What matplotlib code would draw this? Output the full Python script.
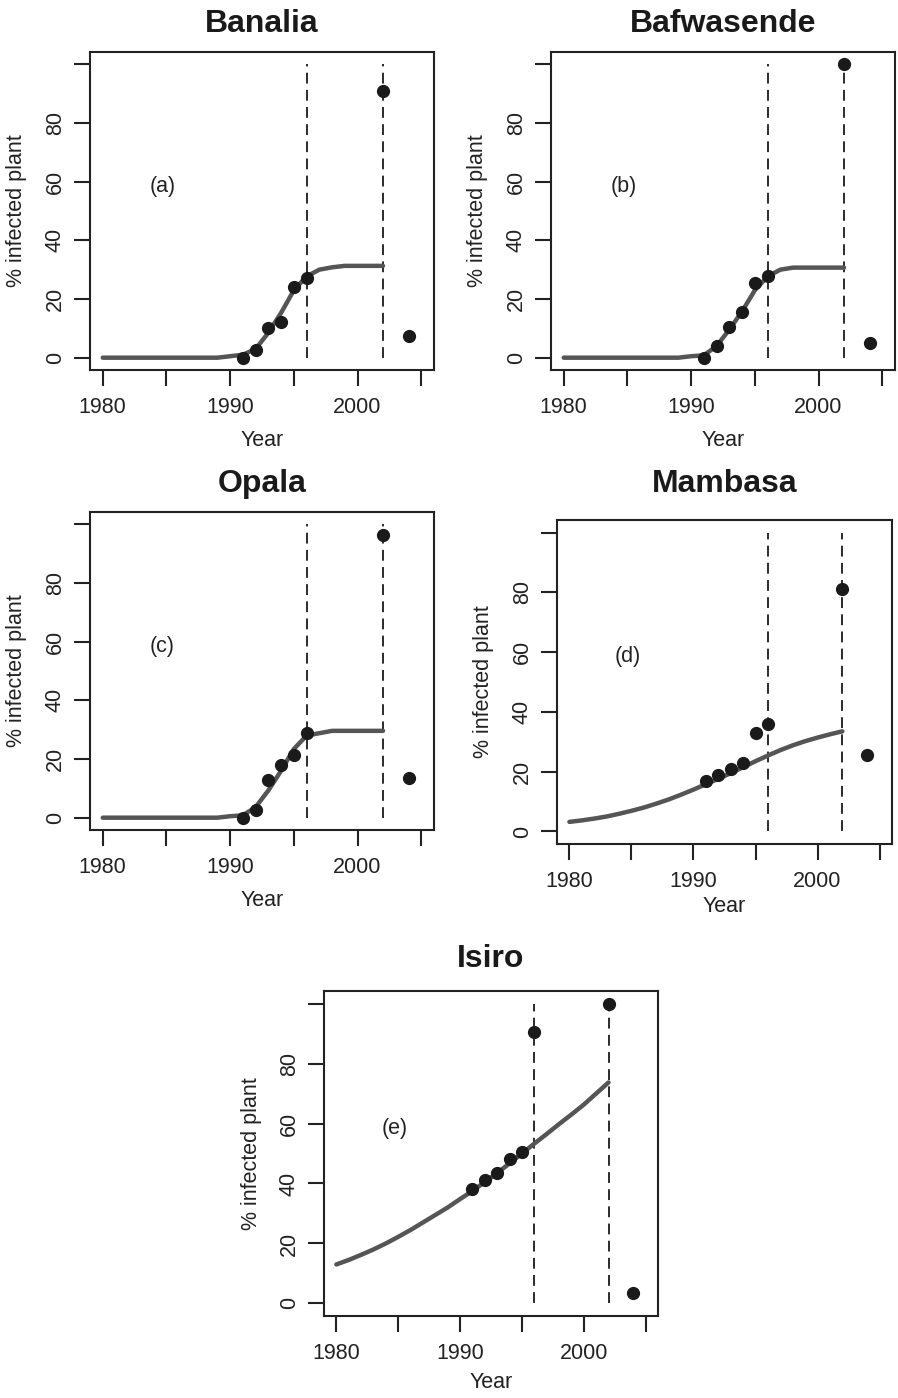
import numpy as np
import matplotlib
matplotlib.use("Agg")
import matplotlib.pyplot as plt

plt.rcParams['font.family'] = ['Liberation Sans', 'DejaVu Sans']

# observed points (year, % infected)
obs_years = [1991, 1992, 1993, 1994, 1995, 1996, 2002, 2004]
obs_banalia = [0, 2.5, 10, 12.2, 24, 27, 91, 7.5]
obs_bafwasende = [0, 4, 10.5, 15.5, 25.5, 28, 100, 5]
obs_opala = [0, 2.5, 13, 18, 21.5, 29, 96.5, 13.5]
obs_mambasa = [17, 19, 21, 23, 33, 36, 81, 25.5]
obs_isiro = [38, 41, 43.5, 48, 50.5, 90.5, 100, 3.5]

# fitted curves (yearly, 1980-2002)
fit_years = list(range(1980, 2003))
fit_banalia = [0, 0, 0, 0, 0, 0, 0, 0, 0, 0, 0.5, 1.0, 3.0, 8.5, 15.3, 23.0, 27.7,
               30.0, 30.8, 31.3, 31.3, 31.3, 31.3]
fit_bafwasende = [0, 0, 0, 0, 0, 0, 0, 0, 0, 0, 0.5, 0.8, 4.0, 9.6, 15.8, 23.0, 27.7,
                  30.0, 30.7, 30.7, 30.7, 30.7, 30.7]
fit_opala = [0, 0, 0, 0, 0, 0, 0, 0, 0, 0, 0.5, 0.8, 3.6, 9.3, 16.0, 23.4, 28.0,
             28.8, 29.6, 29.6, 29.6, 29.6, 29.6]
fit_mambasa = [3.2, 3.7, 4.3, 5.0, 5.9, 6.9, 8.0, 9.3, 10.7, 12.3, 14.0, 15.8, 17.6,
               19.5, 21.5, 23.5, 25.4, 27.2, 28.8, 30.2, 31.4, 32.5, 33.5]
fit_isiro = [13.0, 14.5, 16.2, 18.0, 20.0, 22.2, 24.5, 27.0, 29.5, 32.0, 34.8, 37.5,
             40.5, 43.5, 46.7, 50.0, 53.3, 56.5, 59.8, 63.0, 66.3, 70.0, 73.7]

titles = ["Banalia", "Bafwasende", "Opala", "Mambasa", "Isiro"]
tags = ["(a)", "(b)", "(c)", "(d)", "(e)"]
obs = [obs_banalia, obs_bafwasende, obs_opala, obs_mambasa, obs_isiro]
fits = [fit_banalia, fit_bafwasende, fit_opala, fit_mambasa, fit_isiro]
vlines = [1996, 2002]

W, H = 898, 1398
# box pixel positions: left, top, right, bottom ; title pad (pt)
boxes = [(90, 52, 434, 370, 14.5),
         (551, 52, 895, 370, 14.5),
         (90, 512, 434, 830, 14.5),
         (557, 520, 892, 844, 20),
         (324, 991, 658, 1316, 17)]
xlab_off = [70, 70, 70, 63, 67]
fs = 15.5

fig = plt.figure(figsize=(W / 100, H / 100), dpi=100)

for i in range(5):
    l, t, r, b, tpad = boxes[i]
    ax = fig.add_axes([l / W, 1 - b / H, (r - l) / W, (b - t) / H])
    ax.plot(fit_years, fits[i], color="#555555", lw=3.2, solid_capstyle="round", zorder=2)
    for v in vlines:
        ax.plot([v, v], [0, 100], color="#1a1a1a", lw=1.3, ls=(0, (6, 3.5)), zorder=1)
    ax.plot(obs_years, obs[i], "o", color="#1a1a1a", ms=8.5, zorder=3)
    ax.text(1984.7, 58.5, tags[i], fontsize=fs, ha="center", va="center", color="#222222")

    ax.set_xlim(1979, 2006)
    ax.set_ylim(-4.2, 104.2)
    ax.set_xticks(range(1980, 2006, 5))
    ax.set_xticklabels(["1980", "", "1990", "", "2000", ""])
    ax.set_yticks(range(0, 101, 20))
    ax.set_yticklabels(["0", "20", "40", "60", "80", ""])
    ax.tick_params(direction="out", length=11.5, width=1.5, labelsize=fs,
                   colors="#222222", pad=8)
    ax.tick_params(axis="y", pad=6)
    for lab in ax.get_yticklabels():
        lab.set_rotation(90)
        lab.set_va("center")
    for s in ax.spines.values():
        s.set_linewidth(1.5)
        s.set_color("#222222")

    ax.set_title(titles[i], fontsize=23, fontweight="bold", pad=tpad, color="#1a1a1a")
    ax.set_xlabel("Year", fontsize=fs, color="#222222")
    ax.set_ylabel("% infected plant", fontsize=fs, color="#222222")
    ax.xaxis.set_label_coords(0.5, -xlab_off[i] / (b - t))
    ax.xaxis.label.set_va("center")
    ax.yaxis.set_label_coords(-73 / (r - l), 0.5)
    ax.yaxis.label.set_va("center")

fig.savefig("out.png", dpi=100, facecolor="white")
